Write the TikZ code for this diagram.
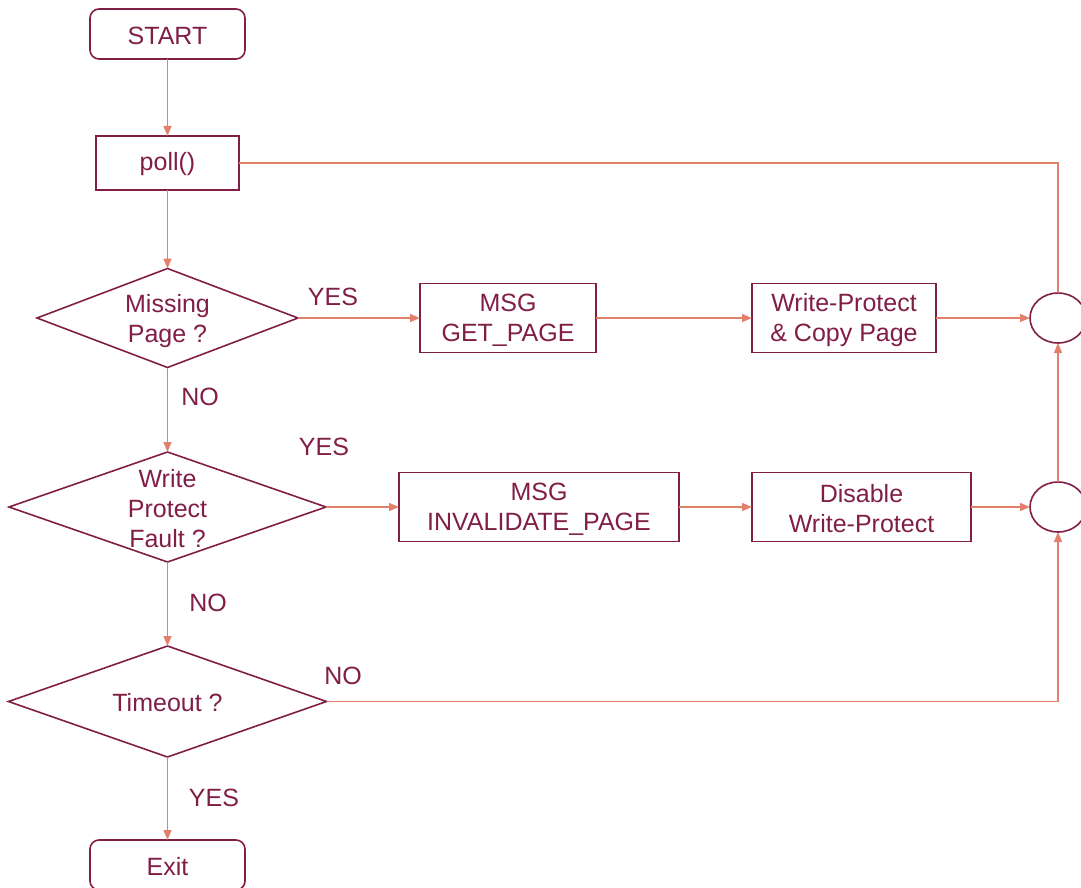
\documentclass[tikz,border=0pt]{standalone}
\usepackage{fontspec}
\setmainfont{Liberation Sans}
\usetikzlibrary{shapes.geometric,arrows.meta}
\definecolor{ink}{RGB}{128,30,70}
\definecolor{flowline}{RGB}{226,128,108}
\begin{document}
\begin{tikzpicture}[x=1pt,y=-1pt,
  font=\fontsize{25}{30}\selectfont,
  every node/.style={text=ink, inner sep=0pt, outer sep=0pt},
  procbox/.style={draw=ink, line width=1.6pt, rectangle, align=center},
  termbox/.style={procbox, rounded corners=9pt},
  decision/.style={draw=ink, line width=1.6pt, diamond, aspect=1},
  joint/.style={draw=ink, line width=1.6pt, ellipse, minimum width=56pt, minimum height=50pt},
  txt/.style={align=center},
  link/.style={draw=flowline, line width=1.5pt},
  flow/.style={link, -{Triangle[length=10pt,width=8pt]}}
]
\useasboundingbox (0,0) rectangle (1081,888);

% terminals and process boxes
\node[termbox, minimum width=155pt, minimum height=50pt] (start) at (167.5,34) {};
\node[txt] at ([yshift=-1.5pt]start) {START};
\node[procbox, minimum width=143pt, minimum height=54pt] (poll) at (167.5,163) {};
\node[txt] at ([yshift=-1.5pt]poll) {poll()};
\node[procbox, minimum width=176pt, minimum height=69pt] (get) at (508,318) {};
\node[txt] at ([yshift=-2.5pt]get) {MSG\\GET\_PAGE};
\node[procbox, minimum width=184pt, minimum height=69pt] (wpc) at (844,318) {};
\node[txt] at ([yshift=-2pt]wpc) {Write-Protect\\\&~Copy Page};
\node[procbox, minimum width=280pt, minimum height=69pt] (inv) at (539,507) {};
\node[txt] at ([yshift=-2.5pt]inv) {MSG\\INVALIDATE\_PAGE};
\node[procbox, minimum width=219pt, minimum height=69pt] (dis) at (861.5,507) {};
\node[txt] at ([yshift=-1.5pt]dis) {Disable\\Write-Protect};
\node[termbox, minimum width=155pt, minimum height=50pt] (exit) at (167.5,865) {};
\node[txt] at ([yshift=-1.5pt]exit) {Exit};

% decisions
\node[decision, minimum width=261pt, minimum height=99pt] (miss) at (167.5,318) {};
\node[txt] at ([yshift=-3pt]miss) {Missing\\Page ?};
\node[decision, minimum width=317pt, minimum height=110pt] (wpf) at (167.5,507) {};
\node[txt] at ([yshift=-1.5pt]wpf) {Write\\Protect\\Fault ?};
\node[decision, minimum width=318pt, minimum height=111pt] (tmo) at (167.5,701.5) {};
\node[txt] at ([yshift=-1.5pt]tmo) {Timeout ?};

% merge points
\node[joint] (c1) at (1058,318) {};
\node[joint] (c2) at (1058,507) {};

% connectors
\draw[flow] (start) -- (poll);
\draw[flow] (poll) -- (miss);
\draw[link] (poll.east) -| (c1.north);
\draw[flow] (miss) -- (get);
\draw[flow] (get) -- (wpc);
\draw[flow] (wpc) -- (c1);
\draw[flow] (miss) -- (wpf);
\draw[flow] (wpf) -- (inv);
\draw[flow] (inv) -- (dis);
\draw[flow] (dis) -- (c2);
\draw[flow] (c2) -- (c1);
\draw[flow] (wpf) -- (tmo);
\draw[flow] (tmo.east) -| (c2.south);
\draw[flow] (tmo) -- (exit);

% branch labels
\node (yes1) at (333,297) {YES};
\node (no1) at (200,396.5) {NO};
\node (yes2) at (324,447) {YES};
\node (no2) at (208,603) {NO};
\node (no3) at (343,676) {NO};
\node (yes3) at (214,798) {YES};
\end{tikzpicture}
\end{document}
